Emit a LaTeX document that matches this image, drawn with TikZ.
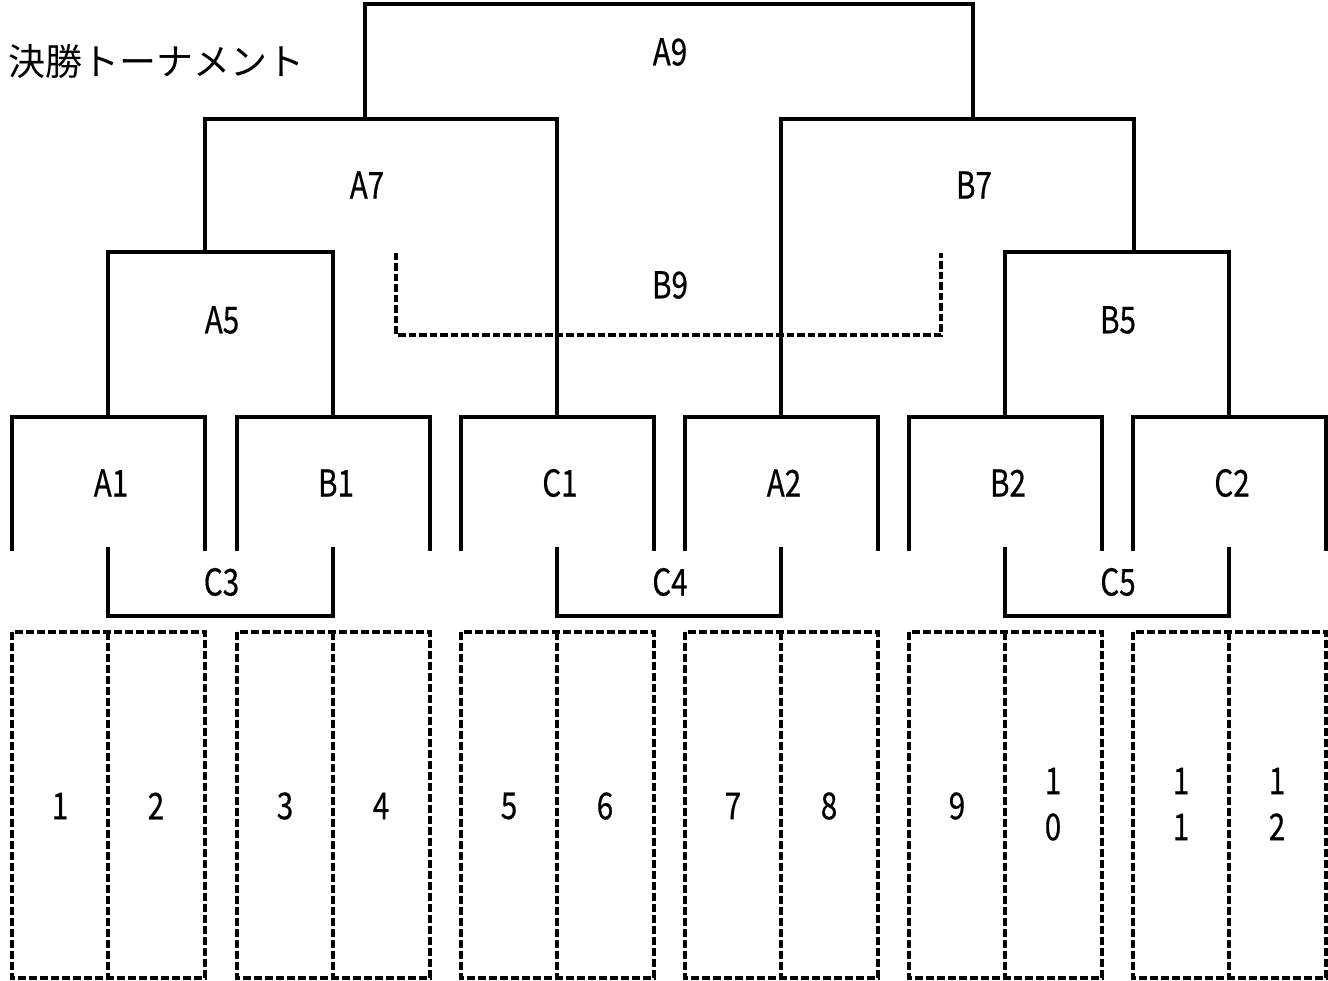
\documentclass[tikz,border=0pt]{standalone}
\usepackage{fontspec}
\setmainfont{Noto Sans CJK JP}
\newfontfamily\lblfont{Noto Sans CJK JP}[FakeBold=0.6]
\usepackage{graphicx}
\newcommand{\nb}[1]{\scalebox{0.8}[1]{#1}}
\newcommand{\stk}[2]{\scalebox{0.8}[1]{\begin{tabular}{@{}c@{}}#1\\#2\end{tabular}}}
\tikzset{
  solidline/.style={line width=3.3pt, line cap=rect, line join=miter},
  dashline/.style={line width=3.4pt, dash pattern=on 8pt off 3pt},
  thindash/.style={line width=3.2pt, dash pattern=on 7.5pt off 3pt},
  lbl/.style={inner sep=0pt, font=\lblfont\fontsize{37}{46}\selectfont},
  ttl/.style={inner sep=0pt, anchor=west, font=\fontsize{37}{40}\selectfont}
}
\begin{document}
\begin{tikzpicture}[x=1pt, y=-1pt]
\useasboundingbox (0,0) rectangle (1328,981);
% title
\node[ttl] (title) at (8,61) {決勝トーナメント};
% bottom dashed cells
\foreach \g in {12, 237, 461, 685, 909, 1133} {
  \draw[dashline] (\g,632) rectangle (\g+193,978);
  \draw[dashline] (\g+96,632) -- (\g+96,978);
}
\node[lbl] (c1) at (60,806) {\nb{1}};
\node[lbl] (c2) at (156,806) {\nb{2}};
\node[lbl] (c3) at (285,806) {\nb{3}};
\node[lbl] (c4) at (381,806) {\nb{4}};
\node[lbl] (c5) at (509,806) {\nb{5}};
\node[lbl] (c6) at (605,806) {\nb{6}};
\node[lbl] (c7) at (733,806) {\nb{7}};
\node[lbl] (c8) at (829,806) {\nb{8}};
\node[lbl] (c9) at (957,806) {\nb{9}};
\node[lbl] (c10) at (1053,808) {\stk{1}{0}};
\node[lbl] (c11) at (1181,808) {\stk{1}{1}};
\node[lbl] (c12) at (1277,808) {\stk{1}{2}};
% first round brackets
\foreach \g/\t in {12/A1, 237/B1, 461/C1, 685/A2, 909/B2, 1133/C2} {
  \draw[solidline] (\g,549) -- (\g,417) -- (\g+193,417) -- (\g+193,549);
  \node[lbl] (n\t) at (\g+99,483) {\nb{\t}};
}
% C brackets (bottom)
\foreach \l/\r/\t in {108/333/C3, 557/781/C4, 1005/1229/C5} {
  \draw[solidline] (\l,549) -- (\l,616) -- (\r,616) -- (\r,549);
  \node[lbl] (n\t) at ({(\l+\r)/2+1},582) {\nb{\t}};
}
% second round
\draw[solidline] (108,417) -- (108,252) -- (333,252) -- (333,417);
\node[lbl] (nA5) at (222,320) {\nb{A5}};
\draw[solidline] (1005,417) -- (1005,252) -- (1229,252) -- (1229,417);
\node[lbl] (nB5) at (1118,320) {\nb{B5}};
% third round
\draw[solidline] (205,252) -- (205,119) -- (557,119) -- (557,417);
\node[lbl] (nA7) at (367,185) {\nb{A7}};
\draw[solidline] (781,417) -- (781,119) -- (1134,119) -- (1134,252);
\node[lbl] (nB7) at (974,185) {\nb{B7}};
% final
\draw[solidline] (365,119) -- (365,4) -- (973,4) -- (973,119);
\node[lbl] (nA9) at (670,52) {\nb{A9}};
% third place (dashed)
\draw[thindash] (396,253) -- (396,335) -- (941,335) -- (941,253);
\node[lbl] (nB9) at (670,285) {\nb{B9}};
\end{tikzpicture}
\end{document}
